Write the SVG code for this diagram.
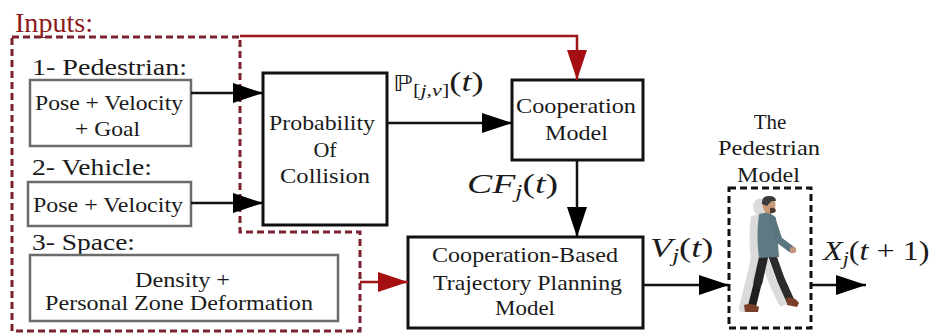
<svg xmlns="http://www.w3.org/2000/svg" width="940" height="333" viewBox="0 0 940 333">
<style>
  .lbl { font-size: 23px; fill: #1a1a1a; }
  .box { font-size: 21px; fill: #1a1a1a; }
  .node { font-size: 22px; fill: #1a1a1a; }
  .math { fill: #1a1a1a; }
  .it { font-style: italic; }
  .inbox { fill: #fff; stroke: #6b6b6b; stroke-width: 2.5; }
  .blk { fill: #fff; stroke: #111; stroke-width: 3; }
  .con { fill: none; stroke: #111; stroke-width: 2.5; }
  .red { fill: none; stroke: #a01515; stroke-width: 2.5; }
  .dash { fill: none; stroke: #7d2330; stroke-width: 3; stroke-dasharray: 7 4; }
  .pdash { fill: none; stroke: #111; stroke-width: 3; stroke-dasharray: 7 4; }
</style>
<defs>
  <marker id="ah" markerUnits="userSpaceOnUse" markerWidth="30" markerHeight="20" refX="30" refY="10" orient="auto">
    <path d="M0,0 L30,10 L0,20 z" fill="#000"/>
  </marker>
  <marker id="ahr" markerUnits="userSpaceOnUse" markerWidth="30" markerHeight="20" refX="30" refY="10" orient="auto">
    <path d="M0,0 L30,10 L0,20 z" fill="#a50f12"/>
  </marker>
</defs>
<rect width="940" height="333" fill="#fff"/>

<g font-family="Liberation Serif, serif">
<g id="inputs">
  <text x="15" y="32" font-size="27" fill="#8b1a1a" textLength="78" lengthAdjust="spacingAndGlyphs">Inputs:</text>
  <polygon class="dash" points="12,37 240,37 240,232 360,232 360,331 12,331"/>
</g>

<g id="pedestrian-input">
  <text class="lbl" x="32" y="75" textLength="155" lengthAdjust="spacingAndGlyphs">1- Pedestrian:</text>
  <rect class="inbox" x="30" y="80" width="161" height="66"/>
  <text class="box" x="35" y="110" textLength="148" lengthAdjust="spacingAndGlyphs">Pose + Velocity</text>
  <text class="box" x="75" y="136" textLength="65" lengthAdjust="spacingAndGlyphs">+ Goal</text>
</g>

<g id="vehicle-input">
  <text class="lbl" x="32" y="175" textLength="120" lengthAdjust="spacingAndGlyphs">2- Vehicle:</text>
  <rect class="inbox" x="28" y="182" width="163" height="44"/>
  <text class="box" x="33" y="212" textLength="150" lengthAdjust="spacingAndGlyphs">Pose + Velocity</text>
</g>

<g id="space-input">
  <text class="lbl" x="32" y="250" textLength="103" lengthAdjust="spacingAndGlyphs">3- Space:</text>
  <rect class="inbox" x="30" y="255" width="308" height="66"/>
  <text class="box" x="135" y="287" textLength="95" lengthAdjust="spacingAndGlyphs">Density +</text>
  <text class="box" x="45" y="310" textLength="268" lengthAdjust="spacingAndGlyphs">Personal Zone Deformation</text>
</g>

<g id="probability">
  <rect class="blk" x="263" y="73" width="124" height="152"/>
  <text class="node" x="269" y="130" textLength="106" lengthAdjust="spacingAndGlyphs">Probability</text>
  <text class="node" x="325" y="157" text-anchor="middle">Of</text>
  <text class="node" x="280" y="183" textLength="90" lengthAdjust="spacingAndGlyphs">Collision</text>
</g>

<g id="cooperation">
  <rect class="blk" x="512" y="80" width="131" height="80"/>
  <text class="node" x="516" y="113" textLength="120" lengthAdjust="spacingAndGlyphs">Cooperation</text>
  <text class="node" x="545" y="140" textLength="63" lengthAdjust="spacingAndGlyphs">Model</text>
</g>

<g id="trajectory">
  <rect class="blk" x="408" y="237" width="235" height="91"/>
  <text class="node" x="432" y="262" textLength="186" lengthAdjust="spacingAndGlyphs">Cooperation-Based</text>
  <text class="node" x="433" y="290" textLength="189" lengthAdjust="spacingAndGlyphs">Trajectory Planning</text>
  <text class="node" x="495" y="315" textLength="60" lengthAdjust="spacingAndGlyphs">Model</text>
</g>

<g id="pedestrian-model">
  <text class="box" x="770" y="129" text-anchor="middle">The</text>
  <text class="box" x="718" y="155" textLength="102" lengthAdjust="spacingAndGlyphs">Pedestrian</text>
  <text class="box" x="737" y="182" textLength="63" lengthAdjust="spacingAndGlyphs">Model</text>
  <rect class="pdash" x="729" y="188" width="82" height="140"/>
  <g id="ghost" transform="translate(-8,2)" opacity="0.35">
    <ellipse cx="768" cy="205" rx="7" ry="8.5" fill="#999"/>
    <path d="M759,214 Q770,211 776,218 L779,256 L759,257 Q756,236 759,214 z" fill="#999"/>
    <path d="M763,256 L757,282 L751,306 M772,256 L781,281 L790,300" stroke="#999" stroke-width="8" fill="none" stroke-linecap="round"/>
  </g>
  <g id="walker">
    <path d="M758,282 L752,306" stroke="#1f1f1f" stroke-width="8" fill="none" stroke-linecap="round"/>
    <path d="M764,255 L758,282" stroke="#262626" stroke-width="9" fill="none" stroke-linecap="round"/>
    <path d="M772,255 L781,280 L790,300" stroke="#2b2b2b" stroke-width="8" fill="none" stroke-linecap="round" stroke-linejoin="round"/>
    <path d="M744,305 Q752,302 759,307 L758,312 L745,312 z" fill="#7a3e2a"/>
    <path d="M786,298 Q794,296 799,303 L797,307 L787,305 z" fill="#7a3e2a"/>
    <rect x="765" y="211" width="6" height="6" fill="#b98a6c"/>
    <path d="M759,214 Q770,211 776,218 L779,257 L759,258 Q756,236 759,214 z" fill="#5d7a82"/>
    <path d="M772,219 L779,240 L791,249" stroke="#587580" stroke-width="7" fill="none" stroke-linecap="round" stroke-linejoin="round"/>
    <circle cx="793" cy="250" r="3.2" fill="#c4947a"/>
    <ellipse cx="769" cy="205" rx="6.5" ry="8" fill="#c99a7a"/>
    <path d="M762,204 Q761,196 769,196 Q776,196 776,201 L772,201 Q769,203 767,206 Z" fill="#3b3b3b"/>
    <path d="M770,208 Q775,207 776,210 Q775,214 770,213 Z" fill="#4a3a32"/>
  </g>
</g>

<g id="connectors">
  <path class="con" d="M191,93 H263" marker-end="url(#ah)"/>
  <path class="con" d="M191,203 H263" marker-end="url(#ah)"/>
  <path class="con" d="M387,123 H512" marker-end="url(#ah)"/>
  <path class="red" d="M240,36 H577 V80" marker-end="url(#ahr)"/>
  <path class="red" d="M360,282 H408" marker-end="url(#ahr)"/>
  <path class="con" d="M577,160 V237" marker-end="url(#ah)"/>
  <path class="con" d="M643,285 H729" marker-end="url(#ah)"/>
  <path class="con" d="M811,285 H866" marker-end="url(#ah)"/>
</g>

<g id="labels">
  <text class="math" transform="translate(393,91) scale(1.3,1)" font-size="28"><tspan font-family="DejaVu Sans, sans-serif" font-size="22">ℙ</tspan><tspan font-size="17" dy="5">[<tspan class="it">j</tspan>,<tspan class="it">v</tspan>]</tspan><tspan dy="-5">(<tspan class="it">t</tspan>)</tspan></text>
  <text class="math" transform="translate(467,193) scale(1.35,1)" font-size="28"><tspan class="it">CF</tspan><tspan class="it" font-size="19" dy="5">j</tspan><tspan dy="-5">(<tspan class="it">t</tspan>)</tspan></text>
  <text class="math" transform="translate(650,257) scale(1.3,1)" font-size="28"><tspan class="it">V</tspan><tspan class="it" font-size="19" dy="5">j</tspan><tspan dy="-5">(<tspan class="it">t</tspan>)</tspan></text>
  <text class="math" transform="translate(823,260) scale(1.15,1)" font-size="28"><tspan class="it">X</tspan><tspan class="it" font-size="19" dy="5">j</tspan><tspan dy="-5">(<tspan class="it">t</tspan> + 1)</tspan></text>
</g>
</g>
</svg>
